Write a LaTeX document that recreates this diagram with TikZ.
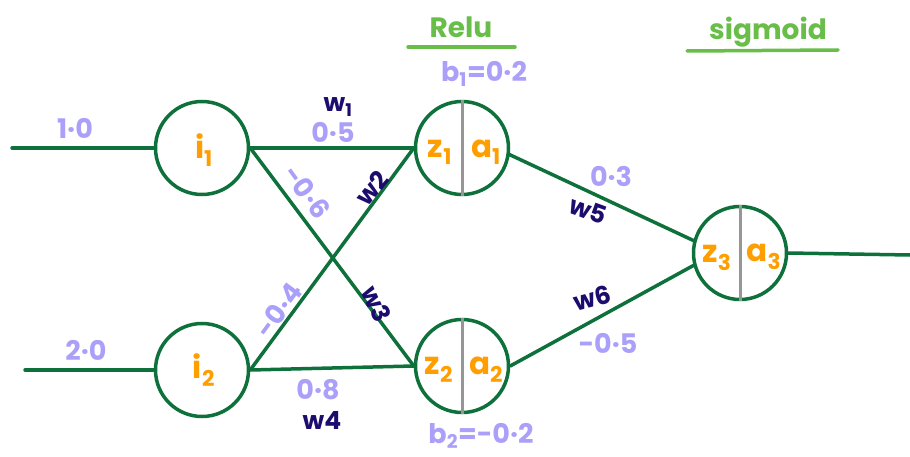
\documentclass[tikz,border=0pt]{standalone}
\usepackage{fontspec}
\setmainfont{Poppins}
\definecolor{edgegreen}{RGB}{14,112,58}
\definecolor{lav}{RGB}{170,160,250}
\definecolor{navyw}{RGB}{28,12,110}
\definecolor{orng}{RGB}{255,158,0}
\definecolor{titlegreen}{RGB}{104,190,72}
\definecolor{divgray}{RGB}{150,150,150}
\begin{document}
\begin{tikzpicture}[x=1pt,y=-1pt,
  neuron/.style={circle,draw=edgegreen,line width=3.5pt,minimum size=93pt,inner sep=0pt},
  conn/.style={draw=edgegreen,line width=3.5pt,line cap=round},
  divider/.style={draw=divgray,line width=3pt},
  wval/.style={text=lav,inner sep=0.5pt,font=\fontsize{27}{27}\selectfont\bfseries},
  wname/.style={text=navyw,inner sep=0.5pt,font=\fontsize{25}{25}\selectfont\bfseries},
  inlabel/.style={text=orng,inner sep=0.5pt,font=\fontsize{31}{31}\selectfont\bfseries},
  title/.style={text=titlegreen,inner sep=0.5pt,font=\fontsize{28}{28}\selectfont\bfseries},
  uline/.style={draw=titlegreen,line width=3.5pt,line cap=round}]
\useasboundingbox (0,0) rectangle (910,457);
% nodes
\node[neuron] (i1) at (202,148) {};
\node[neuron] (i2) at (202,370) {};
\node[neuron] (h1) at (462,148) {};
\node[neuron] (h2) at (462,366) {};
\node[neuron] (o3) at (740,253) {};
\coordinate (in1) at (12,148);
\coordinate (in2) at (25,370);
\coordinate (out3) at (910,255);
% dividers
\draw[divider] (h1.north) -- (h1.south);
\draw[divider] (h2.north) -- (h2.south);
\draw[divider] (o3.north) -- (o3.south);
% connectors
\draw[conn] (in1) -- (i1.west);
\draw[conn] (in2) -- (i2.west);
\draw[conn] (i1.east) -- (h1.west);
\draw[conn] (i1.east) -- (h2.west);
\draw[conn] (i2.east) -- (h1.west);
\draw[conn] (i2.east) -- (h2.west);
\draw[conn] (h1.-8) -- (o3.165);
\draw[conn] (h2.east) -- (o3.195);
\draw[conn] (o3.east) -- (out3);
% node texts
\node[inlabel] (ti1) at (204,150) {i\textsubscript{1}};
\node[inlabel] (ti2) at (204,370) {i\textsubscript{2}};
\node[inlabel] (tz1) at (440,152) {z\textsubscript{1}};
\node[inlabel] (ta1) at (486,152) {a\textsubscript{1}};
\node[inlabel] (tz2) at (439,370) {z\textsubscript{2}};
\node[inlabel] (ta2) at (486,370) {a\textsubscript{2}};
\node[inlabel] (tz3) at (717,258) {z\textsubscript{3}};
\node[inlabel] (ta3) at (764,257) {a\textsubscript{3}};
% input values
\node[wval] (v1) at (75,128) {1·0};
\node[wval] (v2) at (86,350) {2·0};
% weight values
\node[wval] (w1v) at (333,132) {0·5};
\node[wval,rotate=-54] (w3v) at (307,192) {-0·6};
\node[wval,rotate=54] (w2v) at (279,310) {-0·4};
\node[wval] (w4v) at (318,390) {0·8};
\node[wval] (w5v) at (611,176) {0·3};
\node[wval] (w6v) at (608,343) {-0·5};
% weight names
\node[wname] (n1) at (338,107) {w\textsubscript{1}};
\node[wname,rotate=50] (n2) at (372,188) {w2};
\node[wname,rotate=-65] (n3) at (377,304) {w3};
\node[wname] (n4) at (322,420) {w4};
\node[wname,rotate=-20] (n5) at (588,210) {w5};
\node[wname,rotate=15] (n6) at (592,298) {w6};
% biases
\node[wval] (b1) at (484,74) {b\textsubscript{1}=0·2};
\node[wval] (b2) at (481,436) {b\textsubscript{2}=-0·2};
% titles
\node[title] (relu) at (461,27) {Relu};
\node[title] (sig) at (768,32) {sigmoid};
\coordinate (r1) at (408,47);
\coordinate (r2) at (515,47);
\coordinate (s1) at (687,51);
\coordinate (s2) at (838,50);
\draw[uline] (r1) -- (r2);
\draw[uline] (s1) -- (s2);
\end{tikzpicture}
\end{document}
